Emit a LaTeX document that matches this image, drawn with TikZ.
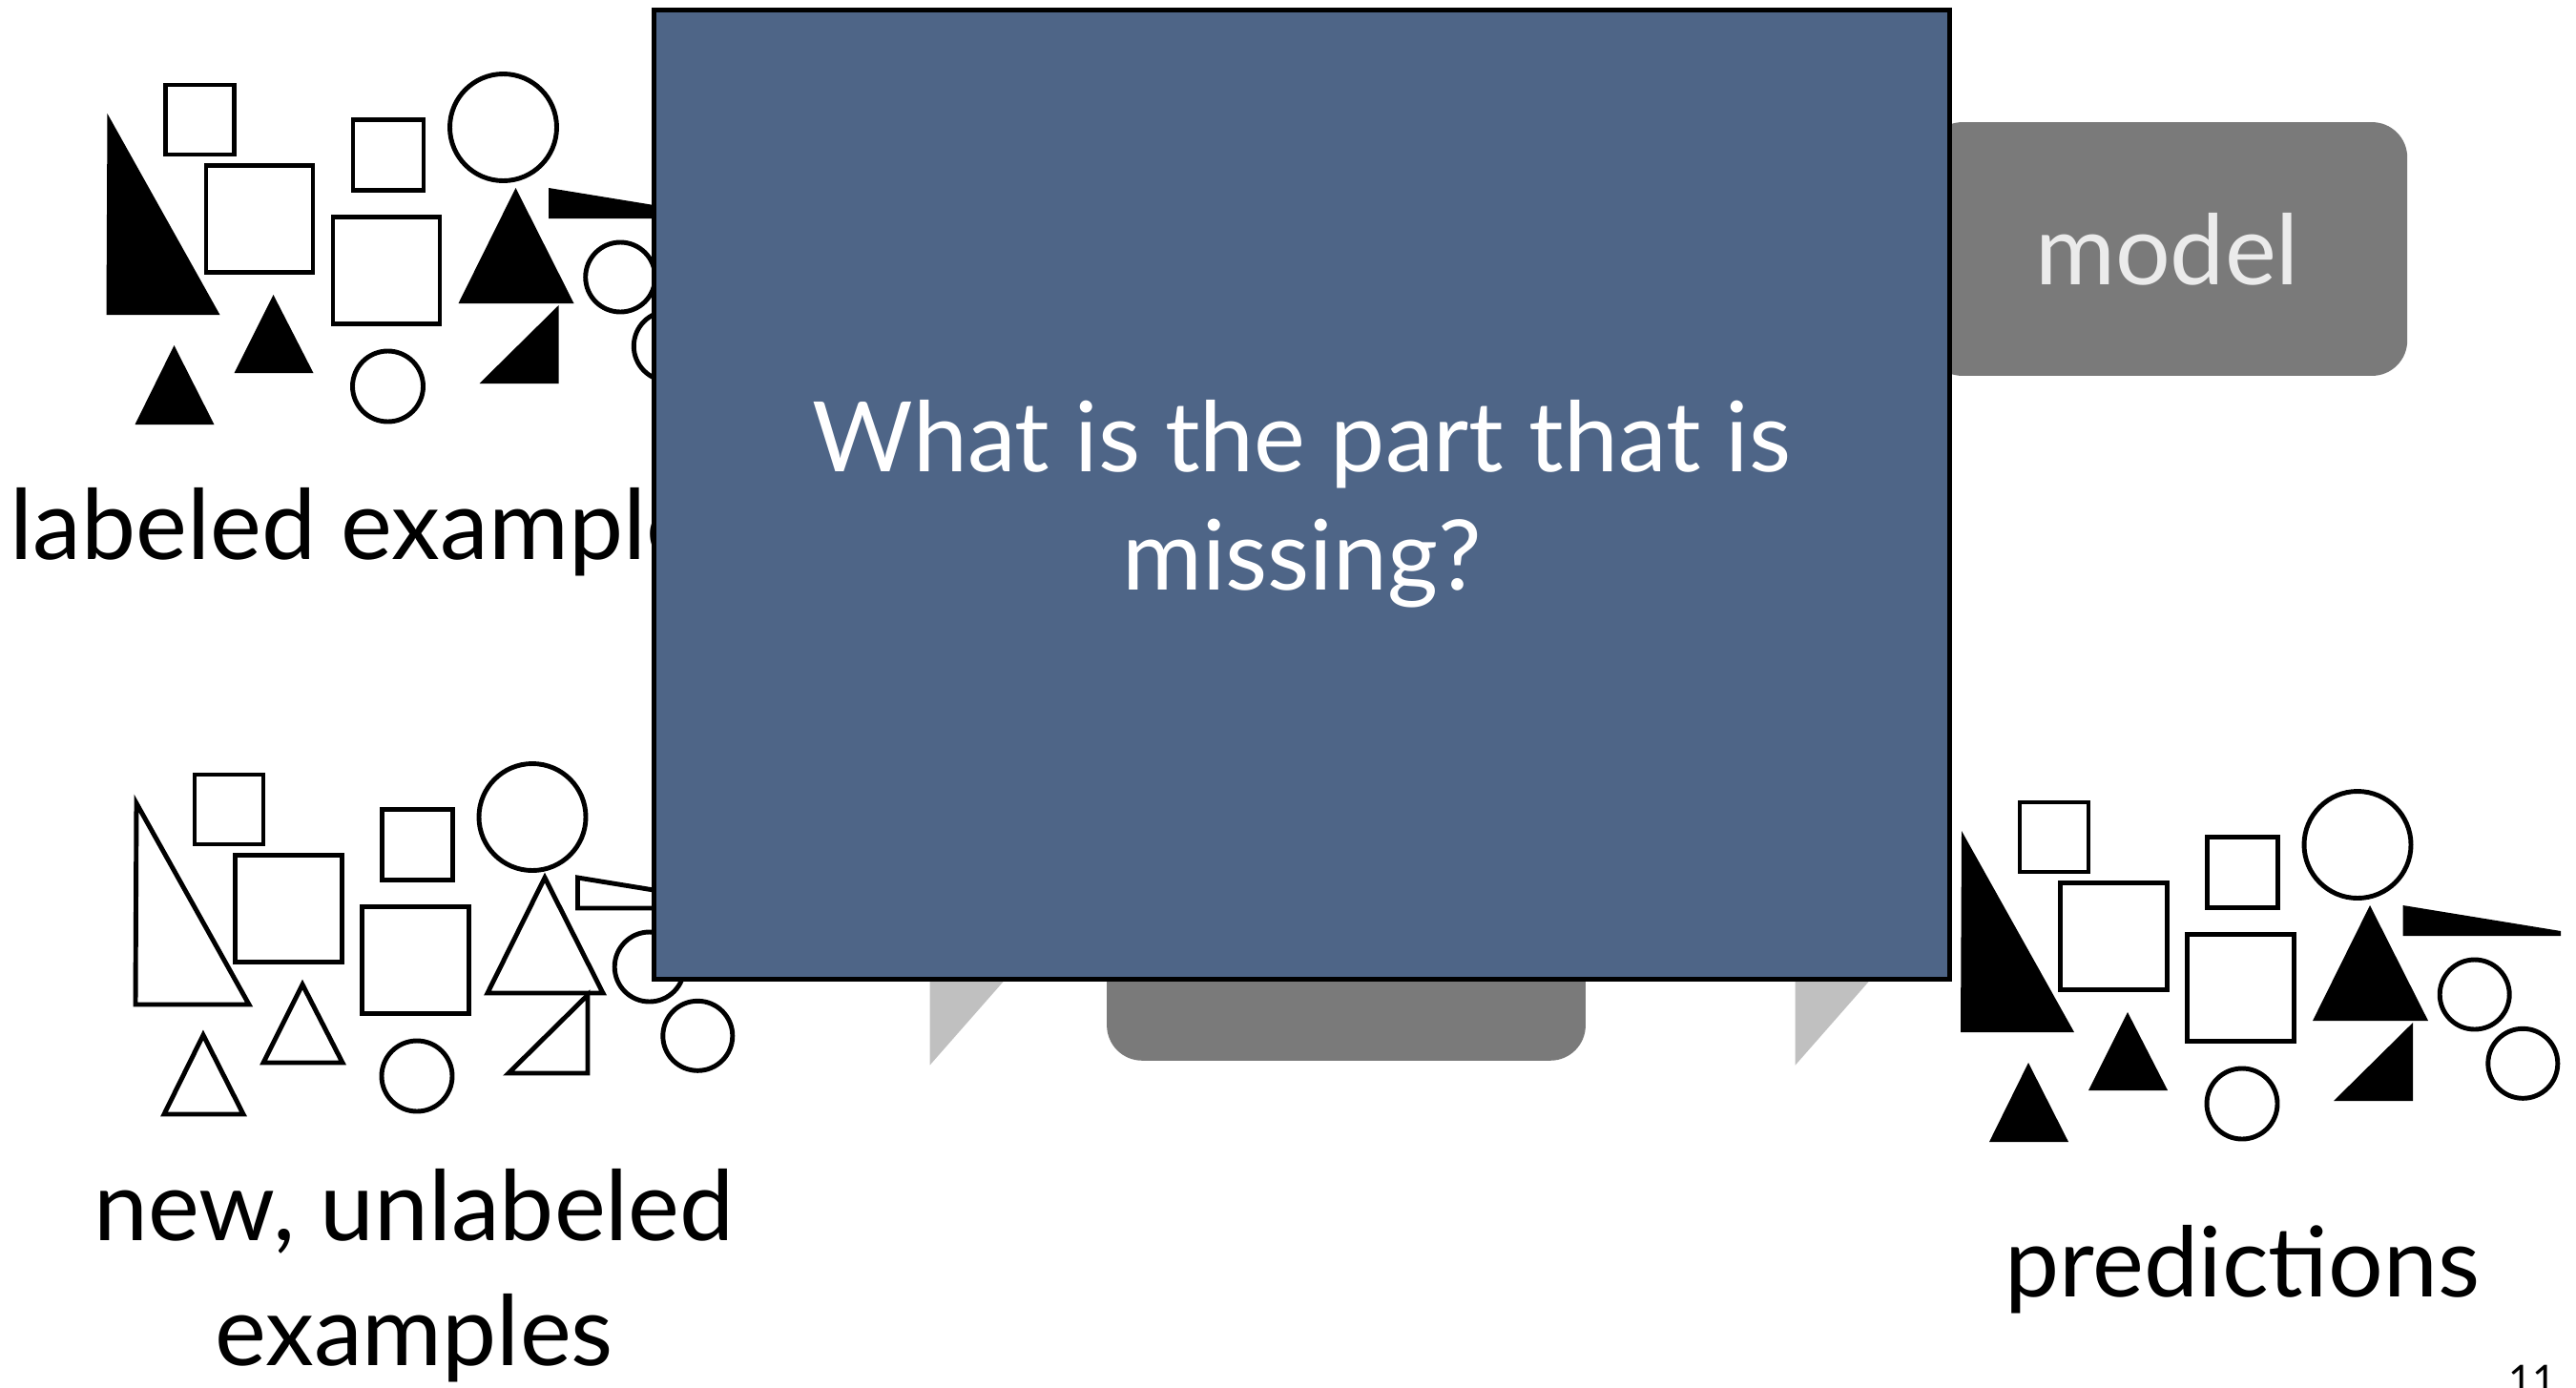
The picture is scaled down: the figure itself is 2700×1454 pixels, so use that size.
\documentclass[tikz,border=0pt]{standalone}
\usepackage{fontspec}
\setmainfont{Lato}
\usetikzlibrary{positioning}
\definecolor{slideBlue}{HTML}{4E6587}
\definecolor{boxGray}{HTML}{7A7A7A}
\definecolor{tailGray}{HTML}{C0C0C0}
\definecolor{labelWhite}{HTML}{EBEBEB}

\tikzset{
  outline/.style={draw=black,line width=1.4pt},
  solidtri/.style={fill=black},
  hollowtri/.style={draw=black,line width=1.4pt},
  tristyle/.style={solidtri},
  bigfont/.style={font=\fontsize{29}{37.3}\selectfont},
  graybox/.style={fill=boxGray,rounded corners=10.5pt,inner sep=0},
  shapeset/.pic={
    \path[tristyle] (0,0) -- (1,-211) -- (119,0) -- cycle;
    \draw[outline] (62,-241) rectangle (134,-168);
    \draw[outline] (104.5,-156.5) rectangle (216.5,-44.5);
    \draw[outline] (258.5,-204.5) rectangle (332.5,-130.5);
    \draw[outline] (237.5,-102.5) rectangle (349.5,9.5);
    \draw[outline] (416,-196.5) circle [radius=56];
    \path[tristyle] (429,-133) -- (369,-12) -- (490,-12) -- cycle;
    \path[tristyle] (463.5,-133) -- (463.5,-101) -- (629,-101) -- (629,-106) -- cycle;
    \draw[outline] (538.7,-39.5) circle [radius=36.5];
    \draw[outline] (589.3,32.8) circle [radius=36.5];
    \path[tristyle] (391,72) -- (474,72) -- (474,-10) -- cycle;
    \draw[outline] (295,75) circle [radius=37];
    \path[tristyle] (175,-21) -- (134,61) -- (217,61) -- cycle;
    \path[tristyle] (71,32) -- (30,115) -- (113,115) -- cycle;
  }
}

\begin{document}
\begin{tikzpicture}[x=0.01cm,y=-0.01cm]
\useasboundingbox (0,0) rectangle (2700,1454);
% the same set of shapes three times
\pic at (111.5,330) {shapeset};
\pic[tristyle/.style={hollowtri}] at (142,1053) {shapeset};
\pic at (2055,1082) {shapeset};
% captions (base of a two-line node is its last line)
\node[bigfont,anchor=base west,inner sep=0] (labeled) at (10,586.7) {labeled examples};
\node[bigfont,anchor=base,align=center,inner sep=0] (unlabeled) at (434,1431.7) {new, unlabeled\\examples};
\node[bigfont,anchor=base,inner sep=0] (predictions) at (2350.5,1359.3) {predictions};
% grey boxes and arrow tails behind the question
\node[graybox,minimum width=5.03cm,minimum height=2.657cm,text=labelWhite,bigfont] (model) at (2271.5,261) {model};
\node[graybox,minimum width=5.015cm,minimum height=2.117cm] (learner) at (1411,1005.85) {};
\fill[tailGray] (974.5,1116.7) -- (974.5,950) -- (1121,950) -- cycle;
\fill[tailGray] (1881.6,1116.7) -- (1881.6,950) -- (2028,950) -- cycle;
% the question on top
\node[draw=black,line width=1.4pt,fill=slideBlue,minimum width=13.58cm,minimum height=10.16cm,inner sep=0] (question) at (1364.5,518.5) {};
\node[text=white,anchor=base,align=center,inner sep=0,font=\fontsize{29}{35}\selectfont] (questionText) at (1364.5,618) {What is the part that is\\missing?};
\node[font=\fontsize{12}{14}\selectfont,anchor=base,inner sep=0] (pageNo) at (2654,1461) {11};
\end{tikzpicture}
\end{document}
